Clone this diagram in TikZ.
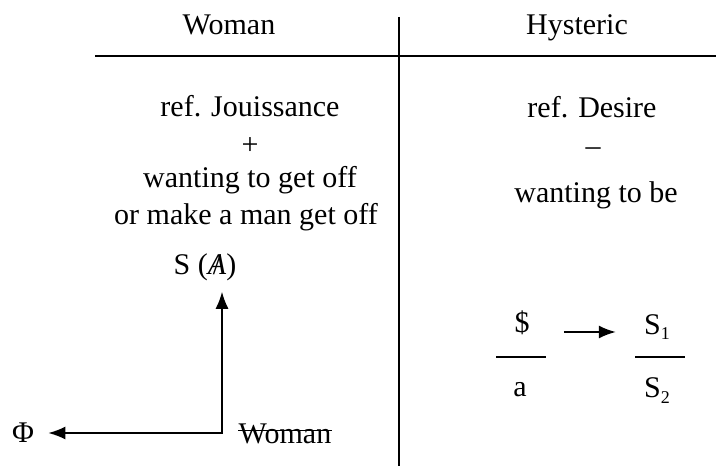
\documentclass[tikz,border=0pt]{standalone}
\usepackage{fontspec}
\setmainfont{Liberation Serif}
\usetikzlibrary{arrows.meta}

\newcommand{\lowsub}[1]{\raisebox{-2.5pt}{\fontsize{9}{9}\selectfont #1}}

\begin{document}
\begin{tikzpicture}[x=0.5pt, y=-0.5pt, >={Latex[length=8.5pt,width=6.5pt]},
    every node/.style={font=\fontsize{15}{18}\selectfont, inner sep=0pt},
    txt/.style={anchor=base}, rule/.style={line width=0.9pt}]
  \useasboundingbox (0,0) rectangle (716,469);
  % table lines
  \draw[rule] (95,56) -- (716,56);
  \draw[rule] (399,17) -- (399,466);
  % headings
  \node[txt] (woman) at (229,35) {Woman};
  \node[txt] (hysteric) at (577,35) {Hysteric};
  % Woman column
  \node[txt] (jouis) at (250,117) {ref. Jouissance};
  \node (plus) at (250,146) {+};
  \node[txt] (getoff) at (250,188) {wanting to get off};
  \node[txt] (manoff) at (246,225) {or make a man get off};
  \node[txt] (sA) at (205,275) {S (\ooalign{\textit{A}\cr\hidewidth/\hidewidth\cr})};
  \node (phi) at (23,433) {Φ};
  \node (barwoman) at (285,434) {Woman};
  \draw[line width=0.7pt] ([yshift=6.5pt]barwoman.base west) -- ([yshift=6.5pt]barwoman.base east);
  \coordinate (corner) at (222,433);
  \draw[<->, line width=0.8pt, shorten <=5pt, shorten >=7pt] (sA.south -| corner) |- (phi.east);
  % Hysteric column
  \node[txt] (desire) at (592,118) {ref. Desire};
  \node (minus) at (593,152) {--};
  \node[txt] (tobe) at (596,203) {wanting to be};
  \node[txt] (dollar) at (522,333) {\$};
  \node[txt] (a) at (520,396) {a};
  \node[txt] (sone) at (657,335) {S\lowsub{1}};
  \node[txt] (stwo) at (657,398) {S\lowsub{2}};
  \draw[rule] (496,357) -- (546,357);
  \draw[rule] (635,357) -- (685,357);
  \coordinate (arrowrow) at (0,332);
  \draw[->, line width=0.8pt, shorten <=17pt, shorten >=14pt] (dollar.east |- arrowrow) -- (sone.west |- arrowrow);
\end{tikzpicture}
\end{document}
